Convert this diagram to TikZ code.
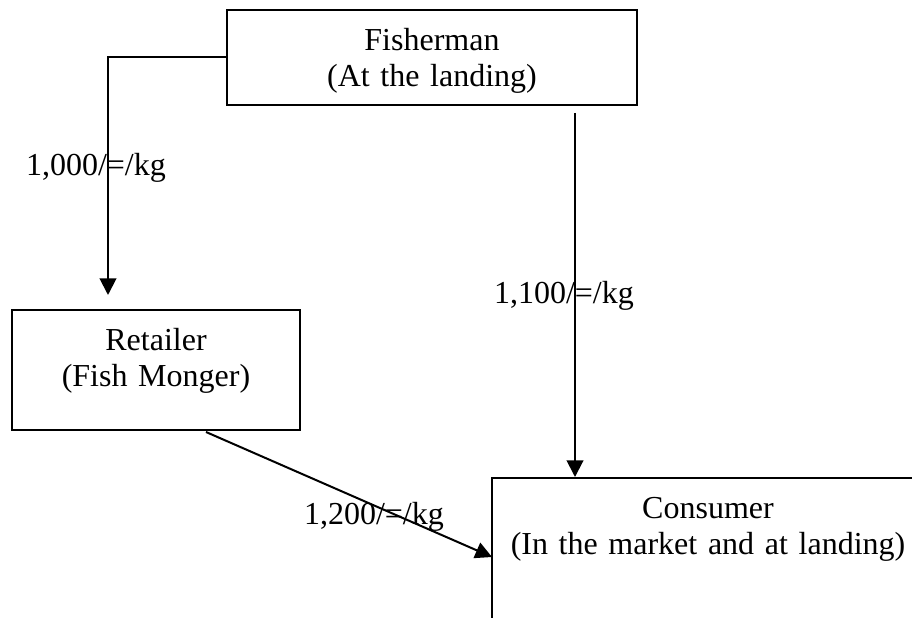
\documentclass[tikz,border=0pt]{standalone}
\usepackage{fontspec}
\setmainfont{Liberation Serif}
\usetikzlibrary{
    arrows.meta,
    calc,
    positioning,
}

\begin{document}
\begin{tikzpicture}[x=0.375pt,y=-0.375pt,>={Triangle[length=6.2pt,width=6.2pt]},line width=0.75pt]

    \tikzstyle{commonNode}=[font=\fontsize{12}{13.5}\selectfont, inner xsep=0pt, inner ysep=0pt]
    \tikzstyle{party}=[commonNode, rectangle, draw=black, align=center, anchor=north, text height=15.375pt]
    \tikzstyle{price}=[commonNode, anchor=base west]
    \tikzstyle{flow}=[->, draw=black]

    % Page, the consumer box runs off the bottom and the right
    \clip (0,0) rectangle (912,618);

    % Trading parties
    \node at (432,9)   [party, text width=153.75pt, text depth=20.25pt] (fisher)   {Fisherman\\(At the landing)};
    \node at (156,309) [party, text width=108pt,    text depth=29.625pt] (retail)   {Retailer\\(Fish Monger)};
    \node at (708,477) [party, text width=162pt,    text depth=75pt]    (consumer) {Consumer\\(In the market and at landing)};

    % Loose ends of the connectors
    \coordinate (retailIn)   at (108,295);
    \coordinate (fisherOut)  at (575,113);
    \coordinate (retailOut)  at (206,432);
    \coordinate (consumerIn) at (492,557);

    % Fish flow
    \draw [flow] (fisher.west) -| (retailIn);
    \draw [flow] (fisherOut) -- (fisherOut |- consumer.north);
    \draw [flow] (retailOut) -- (consumerIn);

    % Prices
    \node at (25,176)  [price] (priceRetail) {1,000/=/kg};
    \node at (493,304) [price] (priceDirect) {1,100/=/kg};
    \node at (303,525) [price] (priceMarket) {1,200/=/kg};

\end{tikzpicture}
\end{document}
